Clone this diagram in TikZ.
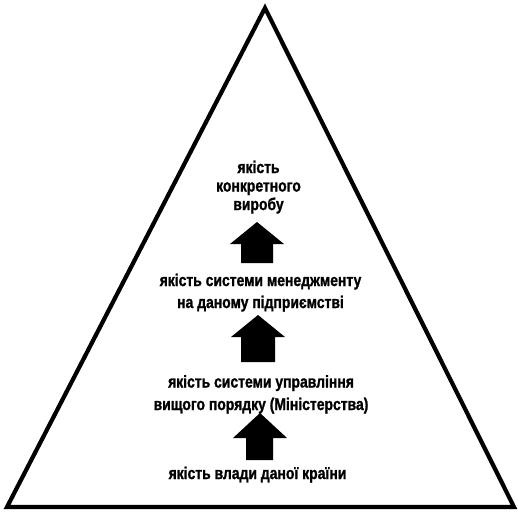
\documentclass[tikz,border=0pt]{standalone}
\usepackage{fontspec}
\setmainfont{Liberation Sans}[FakeStretch=0.82, BoldFeatures={FakeBold=1.2}]
\begin{document}
\begin{tikzpicture}[x=1pt,y=-1pt,
  lbl/.style={font=\bfseries\fontsize{17}{22}\selectfont, align=center, inner sep=0pt, text=black, anchor=base},
  blk/.style={fill=black, draw=none}]
\useasboundingbox (0,0) rectangle (518,511);
\draw[line width=4.2pt, line join=miter] (265,8) -- (514,507) -- (7,507) -- cycle;
\node[lbl, font=\bfseries\fontsize{17}{18.5}\selectfont] (t1) at (258.5,210) {якість\\конкретного\\виробу};
\node[lbl] (t2) at (260.5,308) {якість системи менеджменту\\на даному підприємстві};
\node[lbl, font=\bfseries\fontsize{17}{22.5}\selectfont] (t3) at (261,410) {якість системи управління\\вищого порядку (Міністерства)};
\node[lbl] (t4) at (257.5,479) {якість влади даної країни};
% block arrows
\fill[blk] (257,222) -- (284,244) -- (273,244) -- (273,263) -- (241,263) -- (241,244) -- (230,244) -- cycle;
\fill[blk] (258,315) -- (285,337) -- (275,337) -- (275,362) -- (241,362) -- (241,337) -- (231,337) -- cycle;
\fill[blk] (260,413) -- (287,438) -- (273,438) -- (273,460) -- (246,460) -- (246,438) -- (233,438) -- cycle;
\end{tikzpicture}
\end{document}
